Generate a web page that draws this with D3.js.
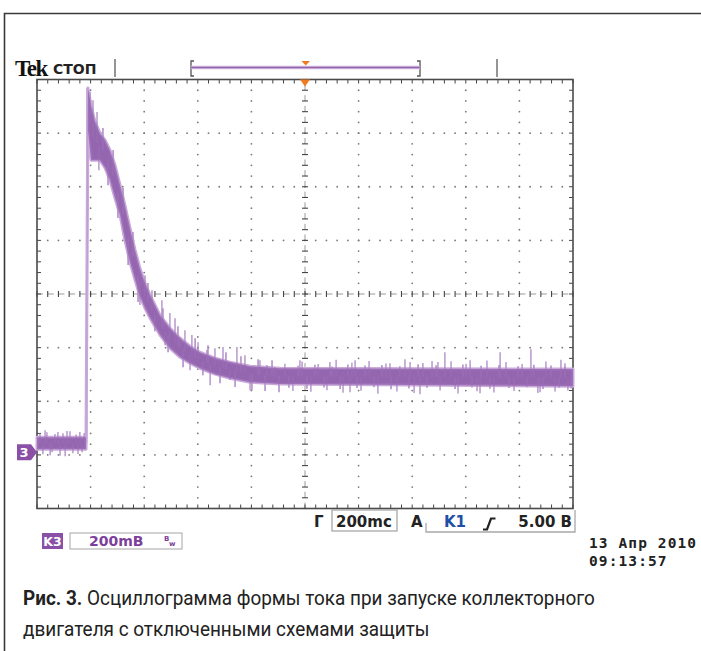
<!DOCTYPE html>
<html>
<head>
<meta charset="utf-8">
<script src="https://cdn.jsdelivr.net/npm/d3@7"></script>
<style>
  body { margin: 0; background: #fff; }
  svg { display: block; }
</style>
</head>
<body>
<div id="scope"></div>
<script>
// trace: time from trigger (ms), current channel K3 (mV above ground)
var timeMs   = [-1000, -817, -810, -798, -784, -765, -746, -728, -709, -690, -672, -653, -634, -616, -597, -578, -541, -504, -466, -429, -392, -336, -280, -205, -93, 1000];
var bandHiMv = [56, 56, 1358, 1290, 1235, 1190, 1164, 1127, 1071, 996, 922, 836, 754, 686, 631, 586, 511, 463, 425, 395, 373, 351, 336, 321, 313, 310];
var bandLoMv = [11, 11, 1201, 1089, 1089, 1089, 1060, 1015, 948, 884, 791, 709, 642, 582, 537, 500, 437, 388, 354, 332, 313, 291, 276, 261, 254, 246];

// tall single spikes (tip values)
var spikeTimeMs = [-989, -978, -970, -963, -951, -944, -933, -922, -914, -903, -895, -888, -877, -866, -854, -847, -840, -832, -824,
  -802, -791, -776, -769, -616, -597, -571, -534, -522, -504, -485, -466, -448, -429, -422, -399, -366, -354, -336, -306, -280, -254, -224, -205,
  -168, -142, -112, -75, -45, -19, -11, 22, 49, 82, 93, 116, 142, 168, 175, 187, 209, 239, 272, 302, 317, 343, 373, 392, 407, 429, 440, 474,
  496, 504, 522, 545, 571, 601, 616, 642, 653, 679, 705, 728, 750, 780, 810, 843, 869, 877, 899, 933, 955, 970, 981];
var spikeTipMv  = [70, -8, 82, 74, -11, 0, 68, 75, -13, 71, -15, 79, 78, -4, 66, -7, 75, 0, 72,
  1343, 1313, 1269, 1052, 549, 660, 604, 567, 399, 519, 500, 429, 455, 306, 437, 410, 381, 250, 388, 392, 269, 392, 362, 231,
  343, 325, 317, 330, 228, 343, 338, 225, 329, 231, 336, 345, 222, 224, 334, 343, 229, 340, 218, 331, 332, 226, 347, 336, 221, 216, 333, 340,
  336, 230, 373, 339, 219, 330, 343, 227, 220, 342, 223, 373, 336, 228, 329, 384, 221, 224, 338, 226, 345, 332, 230];

// short fuzz along the decay and the plateau
var fuzzTimeMs = [-754, -735, -716, -698, -679, -660, -642, -623, -586, -560, -530, -511, -474, -455, -410, -381, -362, -317, -295, -261, -239, -198, -175, -149, -123, -97,
  -60, -26, 7, 37, 71, 101, 131, 160, 194, 224, 257, 287, 321, 354, 388, 422, 455, 489, 560, 589, 623, 657, 690, 724, 761, 795, 828, 854, 888, 918, 948, 970, 993];
var fuzzTipMv  = [1209, 996, 1127, 873, 985, 698, 821, 560, 631, 451, 537, 373, 470, 317, 425, 287, 399, 257, 373, 243, 358, 231, 347, 228, 343, 224,
  240, 322, 237, 326, 241, 320, 236, 327, 239, 323, 242, 325, 235, 321, 238, 328, 240, 324, 236, 327, 241, 322, 237, 325, 239, 321, 242, 326, 236, 323, 240, 320, 238];

var timeDomain = [-1000, 1000];   // 200 mc/div, trigger centred
var voltDomain = [-210, 1390];    // 200 mB/div, ground 2.95 div below centre
var hDivs = 10, vDivs = 8;

var headerTitle = "Стоп";
var timebase = "200mc", trigSource = "K1", trigLevel = "5.00 В";
var chanLabel = "K3", chanScale = "200mB";
var dateLines = ["13 Апр 2010", "09:13:57"];
var captionBold = "Рис. 3.";
var captionLines = [" Осциллограмма формы тока при запуске коллекторного", "двигателя с отключенными схемами защиты"];

(function () {
  "use strict";
  var scope = {
    svg: null,
    left: 37, right: 573, top: 79.5, bottom: 508.5,
    purple: "#9566b0",
    light: "#c9a9da",
    orange: "#f07a1e",

    build: function () {
      this.svg = d3.select("#scope").append("svg").attr("width", 701).attr("height", 651);
      this.x  = d3.scaleLinear().domain(timeDomain).range([this.left, this.right]);
      this.y  = d3.scaleLinear().domain(voltDomain).range([this.bottom, this.top]);
      this.gx = d3.scaleLinear().domain([0, hDivs]).range([this.left, this.right]);
      this.gy = d3.scaleLinear().domain([0, vDivs]).range([this.bottom, this.top]);

      this.svg.append("path").attr("d", "M701,13.5H4.5V651")
        .attr("fill", "none").attr("stroke", "#3a3a3a").attr("stroke-width", 1.6);

      this.buildGrid();
      this.buildTrace();
      this.buildHeader();
      this.buildFooter();
      this.buildCaption();
    },

    buildGrid: function () {
      var g = this.svg.append("g"), gx = this.gx, gy = this.gy, self = this;
      var minorX = d3.range(0, hDivs * 5 + 1).map(function (d) { return d / 5; });
      var minorY = d3.range(0, vDivs * 5 + 1).map(function (d) { return d / 5; });

      // dotted division lines
      d3.range(1, hDivs).filter(function (d) { return d !== 5; }).forEach(function (c) {
        g.selectAll(null).data(minorY.slice(1, -1)).enter().append("circle")
          .attr("cx", gx(c)).attr("cy", function (d) { return gy(d); })
          .attr("r", 0.9).attr("fill", "#7a7a7a");
      });
      d3.range(1, vDivs).filter(function (d) { return d !== 4; }).forEach(function (r) {
        g.selectAll(null).data(minorX.slice(1, -1)).enter().append("circle")
          .attr("cx", function (d) { return gx(d); }).attr("cy", gy(r))
          .attr("r", 0.9).attr("fill", "#7a7a7a");
      });

      // centre cross with ticks
      g.append("line").attr("x1", gx(0)).attr("x2", gx(hDivs)).attr("y1", gy(4)).attr("y2", gy(4))
        .attr("stroke", "#9a9a9a").attr("stroke-dasharray", "6,4.72");
      g.append("line").attr("x1", gx(5)).attr("x2", gx(5)).attr("y1", gy(0)).attr("y2", gy(vDivs))
        .attr("stroke", "#9a9a9a").attr("stroke-dasharray", "6,4.72");
      g.selectAll(null).data(minorX).enter().append("line")
        .attr("x1", function (d) { return gx(d); }).attr("x2", function (d) { return gx(d); })
        .attr("y1", gy(4) - 3).attr("y2", gy(4) + 3).attr("stroke", "#444").attr("stroke-width", 1.1);
      g.selectAll(null).data(minorY).enter().append("line")
        .attr("y1", function (d) { return gy(d); }).attr("y2", function (d) { return gy(d); })
        .attr("x1", gx(5) - 3).attr("x2", gx(5) + 3).attr("stroke", "#444").attr("stroke-width", 1.1);

      // edge ticks
      g.selectAll(null).data(minorX).enter().append("line")
        .attr("x1", function (d) { return gx(d); }).attr("x2", function (d) { return gx(d); })
        .attr("y1", self.top).attr("y2", self.top + 4).attr("stroke", "#444");
      g.selectAll(null).data(minorX).enter().append("line")
        .attr("x1", function (d) { return gx(d); }).attr("x2", function (d) { return gx(d); })
        .attr("y1", self.bottom).attr("y2", self.bottom - 4).attr("stroke", "#444");
      g.selectAll(null).data(minorY).enter().append("line")
        .attr("y1", function (d) { return gy(d); }).attr("y2", function (d) { return gy(d); })
        .attr("x1", self.left).attr("x2", self.left + 4).attr("stroke", "#444");
      g.selectAll(null).data(minorY).enter().append("line")
        .attr("y1", function (d) { return gy(d); }).attr("y2", function (d) { return gy(d); })
        .attr("x1", self.right).attr("x2", self.right - 4).attr("stroke", "#444");

      g.append("rect").attr("x", self.left).attr("y", self.top)
        .attr("width", self.right - self.left).attr("height", self.bottom - self.top)
        .attr("fill", "none").attr("stroke", "#4a4a4a").attr("stroke-width", 1.6);

      // trigger position marker
      g.append("path").attr("d", d3.line()([[gx(5) - 5, self.top], [gx(5) + 5, self.top], [gx(5), self.top + 7]]))
        .attr("fill", this.orange);
    },

    buildTrace: function () {
      var x = this.x, y = this.y, g = this.svg.append("g");
      var rows = timeMs.map(function (t, i) { return { t: t, hi: bandHiMv[i], lo: bandLoMv[i] }; });
      var band = d3.area().x(function (d) { return x(d.t); })
        .y0(function (d) { return y(d.lo); }).y1(function (d) { return y(d.hi); });

      // step edge
      g.append("line").attr("x1", x(-814)).attr("x2", x(-814))
        .attr("y1", y((bandHiMv[1] + bandLoMv[1]) / 2)).attr("y2", y(bandHiMv[2]))
        .attr("stroke", this.light).attr("stroke-width", 1.5);

      g.append("path").datum(rows).attr("d", band)
        .attr("fill", this.purple).attr("stroke", this.light).attr("stroke-width", 3)
        .attr("stroke-linejoin", "round");

      var bis = d3.bisector(function (d) { return d.t; }).right;
      var mid = function (t) {
        var i = Math.min(Math.max(bis(rows, t), 1), rows.length - 1), a = rows[i - 1], b = rows[i];
        var k = (t - a.t) / (b.t - a.t);
        return ((a.hi + a.lo) / 2) * (1 - k) + ((b.hi + b.lo) / 2) * k;
      };
      var spikes = function (times, tips, color, width) {
        g.selectAll(null).data(times).enter().append("line")
          .attr("x1", function (d) { return x(d); }).attr("x2", function (d) { return x(d); })
          .attr("y1", function (d) { return y(mid(d)); })
          .attr("y2", function (d, i) { return y(tips[i]); })
          .attr("stroke", color).attr("stroke-width", width);
      };
      spikes(fuzzTimeMs, fuzzTipMv, "#b38fc9", 1.6);
      spikes(spikeTimeMs, spikeTipMv, "#ad88c5", 1.3);
      g.append("path").datum(rows).attr("d", band).attr("fill", this.purple).attr("opacity", 0.85);

      // ground marker
      var gy0 = y(0);
      this.svg.append("path")
        .attr("d", d3.line()([[17, gy0 - 8], [31, gy0 - 8], [37, gy0], [31, gy0 + 8], [17, gy0 + 8]]))
        .attr("fill", "#8a4fa6");
      this.svg.append("text").attr("x", 24).attr("y", gy0 + 5).attr("text-anchor", "middle")
        .attr("fill", "#fff").attr("font-family", "DejaVu Sans").attr("font-weight", "bold")
        .attr("font-size", 13).text("3");
    },

    buildHeader: function () {
      var s = this.svg;
      s.append("text").attr("x", 15).attr("y", 76).attr("font-family", "Liberation Serif")
        .attr("font-weight", "bold").attr("font-size", 23).attr("letter-spacing", -1.5)
        .attr("fill", "#111").text("Tek");
      s.append("text").attr("x", 53).attr("y", 74).attr("font-family", "DejaVu Sans")
        .attr("font-weight", "bold").attr("font-size", 20).style("font-variant", "all-small-caps")
        .attr("fill", "#222").text(headerTitle);

      [115, 497].forEach(function (px) {
        s.append("line").attr("x1", px).attr("x2", px).attr("y1", 59).attr("y2", 77)
          .attr("stroke", "#8a8a8a").attr("stroke-width", 1.8);
      });

      // record window bracket
      s.append("path").attr("d", "M194,61H191V76H194M417,61H420V76H417")
        .attr("fill", "none").attr("stroke", "#555").attr("stroke-width", 1.3);
      s.append("line").attr("x1", 191).attr("x2", 420).attr("y1", 67.5).attr("y2", 67.5)
        .attr("stroke", "#d3bde0").attr("stroke-width", 3.5);
      s.append("line").attr("x1", 191).attr("x2", 420).attr("y1", 67.5).attr("y2", 67.5)
        .attr("stroke", this.purple).attr("stroke-width", 1.3);
      s.append("path").attr("d", "M301.5,61H310L305.7,65.5Z").attr("fill", this.orange);
    },

    buildFooter: function () {
      var s = this.svg, f = "DejaVu Sans";
      var t = function (x, yy, str, size, color, anchor) {
        return s.append("text").attr("x", x).attr("y", yy).attr("font-family", f)
          .attr("font-weight", "bold").attr("font-size", size).attr("fill", color)
          .attr("text-anchor", anchor || "start").text(str);
      };
      s.append("rect").attr("x", 332).attr("y", 510).attr("width", 65).attr("height", 21)
        .attr("fill", "none").attr("stroke", "#a8a8a8").attr("stroke-width", 1.3);
      s.append("path").attr("d", "M426,523V532H575V510").attr("fill", "none")
        .attr("stroke", "#a8a8a8").attr("stroke-width", 1.3);
      t(314, 527, "Г", 15, "#222");
      t(336, 527, timebase, 15, "#222");
      t(411, 527, "A", 15, "#222");
      t(444, 527, trigSource, 15, "#1f4fa8");
      s.append("path").attr("d", "M483,529.5H487L491,518.5H495.5").attr("fill", "none")
        .attr("stroke", "#222").attr("stroke-width", 2.2);
      t(572, 527, trigLevel, 15, "#222", "end");

      s.append("rect").attr("x", 42).attr("y", 533).attr("width", 21).attr("height", 16).attr("fill", "#8a4fa6");
      t(52.5, 546, chanLabel, 12.5, "#fff", "middle");
      s.append("rect").attr("x", 70).attr("y", 533).attr("width", 112).attr("height", 16)
        .attr("fill", "none").attr("stroke", "#b5b5b5").attr("stroke-width", 1.2);
      t(89, 546, chanScale, 14, "#7d3f9c");
      t(164, 541, "B", 7, "#7d3f9c");
      t(169, 546, "w", 7, "#7d3f9c");

      s.selectAll(null).data(dateLines).enter().append("text")
        .attr("x", 589).attr("y", function (d, i) { return 548 + i * 18; })
        .attr("font-family", "DejaVu Sans Mono").attr("font-weight", "bold")
        .attr("font-size", 14.5).attr("letter-spacing", 1.1).attr("fill", "#222")
        .text(function (d) { return d; });
    },

    buildCaption: function () {
      // one horizontal squeeze for both lines, like the condensed face of the original
      var s = this.svg, font = "Roboto, 'DejaVu Sans', sans-serif";
      var l1 = s.append("text").attr("font-family", font).attr("font-size", 21).attr("fill", "#222");
      l1.append("tspan").attr("font-weight", "bold").text(captionBold);
      l1.append("tspan").text(captionLines[0]);
      var k = 572 / l1.node().getComputedTextLength();
      l1.attr("transform", "translate(23,605) scale(" + k + ",1)");
      s.append("text").attr("font-family", font).attr("font-size", 21).attr("fill", "#222")
        .attr("transform", "translate(23,636) scale(" + k + ",1)")
        .text(captionLines[1]);
    }
  };
  scope.build();
}());
</script>
</body>
</html>
